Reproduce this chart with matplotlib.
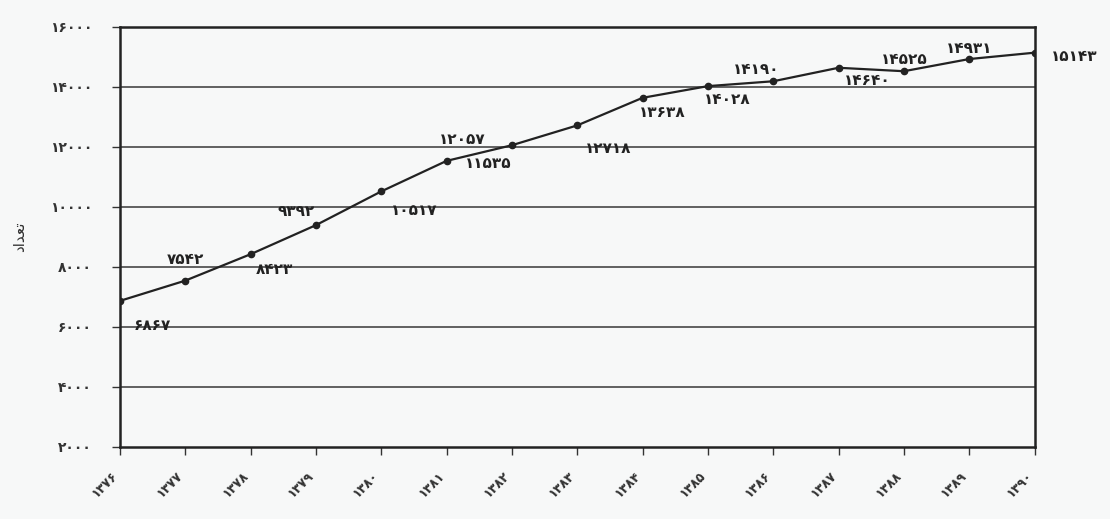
import matplotlib.pyplot as plt

plt.rcParams['font.family'] = ['DejaVu Sans']

# سال ها و تعداد
years = [1376, 1377, 1378, 1379, 1380, 1381, 1382, 1383,
         1384, 1385, 1386, 1387, 1388, 1389, 1390]
counts = [6867, 7542, 8423, 9392, 10517, 11535, 12057, 12718,
          13638, 14028, 14190, 14640, 14525, 14931, 15143]
y_ticks = [2000, 4000, 6000, 8000, 10000, 12000, 14000, 16000]

# offsets (pixels) for the value labels
offsets = [(32, -25), (0, 21), (24, -15), (-20, 14), (33, -19), (42, -3),
           (-50, 6), (31, -23), (20, -15), (19, -13), (-17, 12), (29, -13),
           (0, 12), (0, 11), (40, -4)]

fa = str.maketrans('0123456789', '۰۱۲۳۴۵۶۷۸۹')


def fa_num(v):
    return str(v).translate(fa)


fig = plt.figure(figsize=(11.1, 5.19), dpi=100, facecolor='#f7f8f8')
ax = fig.add_axes([0.108, 0.139, 0.824, 0.809])
ax.set_facecolor('#f7f8f8')

for t in y_ticks[1:-1]:
    ax.axhline(t, color='#555555', lw=1.3, zorder=1)

ax.plot(years, counts, color='#222222', lw=1.6, marker='o', ms=4.5, zorder=3)

for x, y, (dx, dy) in zip(years, counts, offsets):
    ax.annotate(fa_num(y), (x, y), xytext=(dx, dy), textcoords='offset pixels',
                ha='center', va='center', fontsize=11, fontweight='bold',
                color='#222222', annotation_clip=False)

ax.set_xlim(years[0], years[-1])
ax.set_ylim(2000, 16000)
ax.set_xticks(years)
ax.set_xticklabels([fa_num(y) for y in years], rotation=45, ha='right',
                   fontsize=9, fontweight='bold', color='#333333')
ax.set_yticks(y_ticks)
ax.set_yticklabels([fa_num(t) for t in y_ticks], fontsize=10,
                   fontweight='bold', color='#333333')
ax.tick_params(direction='out', length=6, width=1, color='#333333')
ax.tick_params(axis='x', pad=10)
ax.tick_params(axis='y', pad=14)
for s in ax.spines.values():
    s.set_color('#222222')
    s.set_linewidth(1.8)

# تعداد (presentation forms so the letters join)
ax.set_ylabel('\uFEA9\uFE8D\uFEAA\uFECC\uFE97', fontsize=11, color='#333333',
              labelpad=16)

fig.savefig('out.png', dpi=100, facecolor=fig.get_facecolor())
